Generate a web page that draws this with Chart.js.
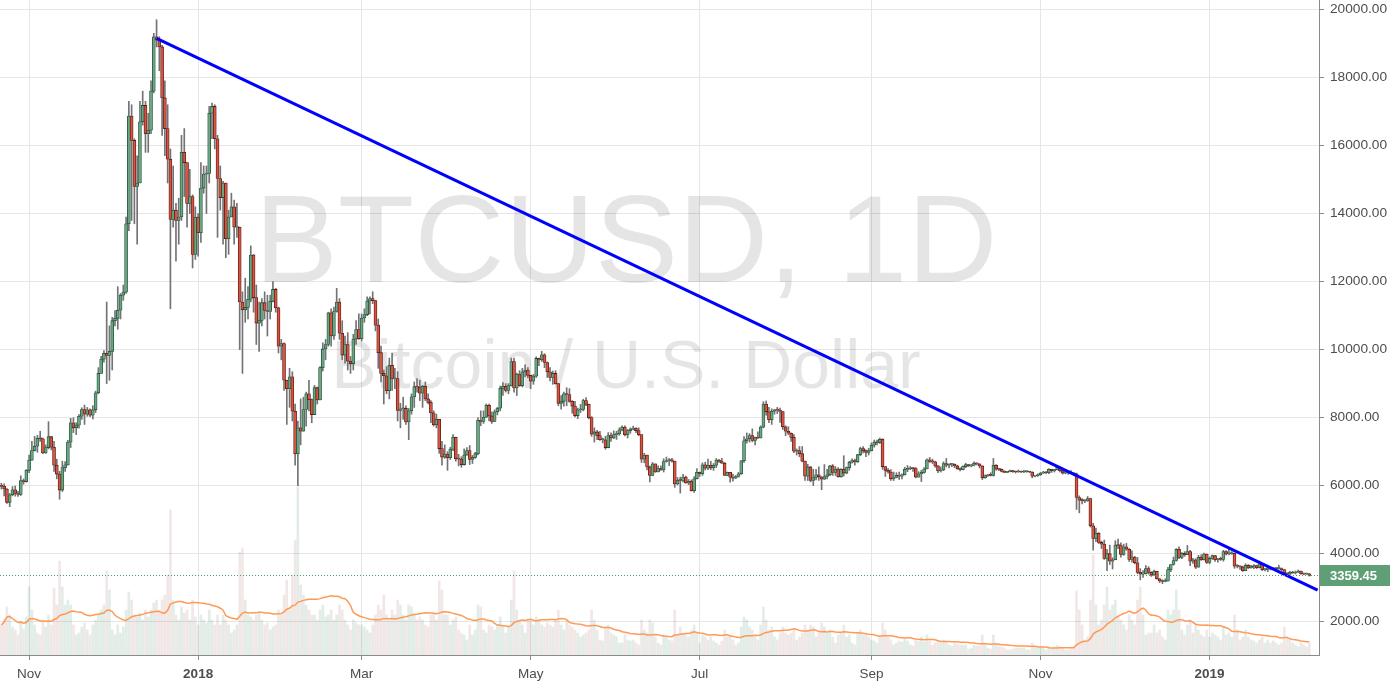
<!DOCTYPE html>
<html>
<head>
<meta charset="utf-8">
<title>BTCUSD, 1D</title>
<script src="https://cdn.jsdelivr.net/npm/chart.js@4.4.1/dist/chart.umd.min.js"></script>
<style>
  html, body { margin: 0; padding: 0; background: #ffffff; }
  #wrap { width: 1394px; height: 683px; position: relative; }
</style>
</head>
<body>
<div id="wrap"><canvas id="btcChart"></canvas></div>
<script>
// ========== DATA ==========

const symbolTitle = 'BTCUSD, 1D';
const symbolName = 'Bitcoin / U.S. Dollar';

const firstDay = '2017-10-22';
const lastDay = '2019-02-09';   // axis runs a few empty days past the last candle
const firstOpen = 6010;         // close of 2017-10-21; every later open is the previous close

// daily closes, one row per month
const closes = [
  5980, 5900, 5510, 5730, 5880, 5770, 5740, 6150, 6120, 6450,
  6750, 7030, 7160, 7390, 7380, 6960, 7120, 7440, 7130, 6600, 6340, 5870, 6530, 6610, 7280, 7850, 7700, 7780, 8040, 8240, 8100, 8230, 8070, 8230, 8730, 9300, 9720, 9890, 9830, 9950,
  10850, 10920, 11160, 11600, 11690, 13700, 16870, 16150, 14800, 14900, 16700, 17180, 16350, 16450, 17600, 19200, 19100, 18900, 17400, 16500, 15600, 13830, 14100, 13800, 13900, 15800, 15500, 14300, 14500, 12800, 13900,
  13440, 14750, 15160, 15180, 16950, 17150, 16200, 15030, 14470, 14900, 13260, 13900, 14200, 13600, 13600, 11400, 11170, 11240, 11480, 12780, 11530, 10780, 10860, 11380, 11150, 11120, 11420, 11770, 11230, 10100, 10180,
  9100, 8850, 9200, 8190, 6940, 7700, 7600, 8240, 8700, 8530, 8090, 8880, 8520, 9470, 10020, 10150, 11080, 10400, 11120, 11400, 10480, 9840, 10150, 9660, 9590, 10310, 10590, 10320,
  10930, 11030, 11430, 11500, 11440, 10720, 9910, 9300, 9230, 8790, 9540, 9140, 9150, 8210, 8260, 8270, 7870, 8200, 8610, 8910, 8900, 8720, 8920, 8550, 8450, 8140, 7790, 7950, 7090, 6840, 6930,
  6820, 7070, 7420, 6790, 6780, 6620, 6900, 7030, 6770, 6830, 6940, 7920, 7890, 8010, 8360, 8050, 7890, 8170, 8280, 8860, 8920, 8800, 8940, 9650, 8870, 9280, 8940, 9350, 9400, 9240,
  9070, 9220, 9740, 9700, 9850, 9620, 9350, 9180, 9300, 9000, 8420, 8480, 8700, 8680, 8480, 8340, 8060, 8230, 8240, 8500, 8390, 8000, 7510, 7580, 7470, 7350, 7350, 7120, 7470, 7400, 7500,
  7530, 7640, 7720, 7500, 7620, 7660, 7690, 7620, 7500, 6780, 6900, 6550, 6300, 6640, 6400, 6500, 6460, 6710, 6740, 6760, 6720, 6050, 6160, 6150, 6250, 6080, 6130, 5850, 6200, 6390,
  6350, 6610, 6510, 6600, 6530, 6600, 6750, 6710, 6660, 6300, 6390, 6250, 6220, 6270, 6350, 6730, 7320, 7380, 7470, 7330, 7410, 7400, 7720, 8400, 8170, 7940, 8190, 8230, 8220, 8180, 7730,
  7600, 7540, 7420, 7010, 7030, 6940, 6720, 6280, 6550, 6150, 6240, 6320, 6260, 6190, 6270, 6320, 6580, 6390, 6490, 6260, 6480, 6370, 6530, 6690, 6740, 6700, 6910, 7090, 7030, 6980, 7030,
  7190, 7280, 7260, 7360, 6560, 6450, 6400, 6200, 6240, 6300, 6280, 6320, 6480, 6490, 6520, 6500, 6250, 6350, 6390, 6490, 6760, 6710, 6700, 6580, 6430, 6460, 6650, 6600, 6630, 6630,
  6580, 6500, 6470, 6560, 6620, 6580, 6600, 6660, 6640, 6580, 6230, 6290, 6310, 6300, 6600, 6490, 6480, 6420, 6390, 6410, 6420, 6410, 6400, 6420, 6400, 6410, 6410, 6400, 6280, 6290, 6320,
  6370, 6400, 6380, 6480, 6440, 6470, 6540, 6440, 6370, 6400, 6400, 6370, 6350, 5650, 5570, 5560, 5550, 5620, 4820, 4450, 4600, 4330, 4280, 3860, 4000, 3780, 3820, 4250, 4240, 3980,
  4200, 4130, 3830, 3900, 3730, 3450, 3400, 3410, 3560, 3450, 3370, 3480, 3260, 3200, 3180, 3200, 3530, 3680, 3800, 4130, 3890, 4010, 3970, 4060, 3780, 3820, 3600, 3890, 3820, 3990, 3740,
  3860, 3940, 3820, 3850, 3830, 4060, 3990, 4000, 4010, 3630, 3630, 3610, 3500, 3660, 3580, 3620, 3650, 3590, 3700, 3530, 3540, 3580, 3550, 3570, 3560, 3560, 3530, 3430, 3400, 3460, 3430,
  3460, 3490, 3410, 3400, 3410, 3359.45
];

const highs = [
  6070, 6050, 5910, 5770, 5970, 5990, 5830, 6290, 6200, 6470,
  6900, 7300, 7450, 7480, 7600, 7400, 7200, 7880, 7450, 7300, 6780, 6420, 6720, 6710, 7330, 7980, 8000, 7850, 8090, 8290, 8370, 8300, 8260, 8350, 8780, 9470, 9800, 9970, 11400, 10700,
  10950, 11150, 11850, 11650, 11900, 13900, 17300, 17200, 16200, 15700, 17300, 17600, 17300, 16950, 17900, 19300, 19700, 19200, 18950, 17900, 17200, 15900, 15400, 14300, 14450, 16300, 16500, 15500, 15300, 14550, 14200,
  14000, 15500, 15400, 15400, 17150, 17250, 17200, 16300, 15400, 14950, 14900, 14100, 14600, 14400, 14300, 13600, 11700, 12100, 11850, 13050, 12800, 11900, 11400, 11500, 11700, 11600, 11600, 12000, 11800, 11250, 10300,
  10200, 9100, 9450, 9350, 8400, 7900, 8550, 8600, 8750, 9100, 8550, 8950, 8900, 9500, 10200, 10300, 11100, 11200, 11250, 11800, 11500, 10850, 10400, 10500, 9800, 10450, 10850, 11050,
  11050, 11200, 11550, 11550, 11700, 11450, 10900, 10100, 9400, 9500, 9750, 9900, 9450, 9350, 8420, 8600, 8350, 8270, 8700, 9050, 9150, 9100, 8950, 9050, 8700, 8500, 8200, 8100, 7950, 7300, 7200,
  7000, 7130, 7500, 7430, 6920, 6850, 7080, 7120, 7180, 6890, 6980, 8000, 8200, 8200, 8400, 8400, 8170, 8230, 8300, 8930, 9030, 9000, 9000, 9750, 9750, 9310, 9380, 9450, 9550, 9470,
  9250, 9270, 9790, 9750, 9950, 9880, 9640, 9470, 9370, 9380, 9000, 8650, 8750, 8880, 8850, 8500, 8480, 8280, 8390, 8540, 8590, 8400, 8030, 7700, 7630, 7600, 7400, 7450, 7560, 7550, 7610,
  7600, 7700, 7760, 7760, 7650, 7700, 7750, 7700, 7700, 7500, 6950, 6900, 6580, 6680, 6640, 6580, 6580, 6790, 6840, 6800, 6800, 6720, 6240, 6250, 6330, 6280, 6180, 6170, 6270, 6500,
  6400, 6670, 6690, 6780, 6720, 6650, 6800, 6770, 6800, 6680, 6400, 6390, 6340, 6300, 6390, 6740, 7440, 7550, 7530, 7670, 7430, 7580, 7760, 8470, 8490, 8300, 8260, 8240, 8300, 8280, 8180,
  7760, 7730, 7550, 7500, 7080, 7150, 7150, 6720, 6630, 6560, 6480, 6480, 6550, 6260, 6620, 6480, 6600, 6620, 6560, 6530, 6500, 6880, 6550, 6720, 6790, 6780, 6920, 7130, 7150, 7050, 7100,
  7260, 7340, 7340, 7400, 7380, 6560, 6500, 6470, 6400, 6380, 6400, 6350, 6540, 6590, 6560, 6530, 6530, 6410, 6450, 6530, 6790, 6830, 6780, 6720, 6590, 6550, 6700, 6800, 6640, 6650,
  6640, 6600, 6520, 6580, 6660, 6620, 6620, 6700, 6670, 6640, 6580, 6320, 6330, 6380, 6800, 6620, 6510, 6490, 6440, 6420, 6460, 6450, 6430, 6460, 6430, 6450, 6430, 6420, 6410, 6300, 6350,
  6390, 6420, 6410, 6500, 6480, 6480, 6590, 6550, 6460, 6420, 6420, 6440, 6380, 6370, 5700, 5620, 5580, 5680, 5630, 4890, 4750, 4620, 4370, 4400, 4130, 4250, 3880, 4380, 4430, 4320,
  4280, 4300, 4150, 4080, 3920, 3890, 3560, 3500, 3650, 3620, 3470, 3520, 3480, 3270, 3230, 3260, 3600, 3680, 3900, 4150, 4200, 4030, 4060, 4240, 4100, 3860, 3850, 3950, 3970, 4020, 3990,
  3900, 3960, 3950, 3860, 3900, 4100, 4090, 4140, 4060, 4020, 3680, 3640, 3630, 3700, 3680, 3660, 3680, 3660, 3780, 3710, 3560, 3620, 3600, 3590, 3580, 3660, 3580, 3530, 3440, 3480, 3480,
  3490, 3520, 3490, 3430, 3430, 3420
];

const lows = [
  5900, 5700, 5480, 5380, 5700, 5690, 5680, 5710, 6040, 6100,
  6380, 6740, 7020, 6980, 7300, 6940, 6950, 7080, 7050, 6420, 6200, 5600, 5830, 6420, 6600, 7120, 7560, 7500, 7690, 7950, 7800, 8040, 8030, 7960, 8150, 8700, 9300, 9630, 9000, 9100,
  9400, 10700, 10600, 10900, 11450, 11650, 13500, 13800, 13700, 13100, 14900, 16600, 15800, 15800, 16350, 17550, 18900, 18200, 16300, 15700, 14900, 11200, 13600, 12600, 13100, 13800, 14500, 13600, 14000, 12400, 12650,
  12750, 13150, 14600, 14000, 14900, 16200, 15900, 13300, 14100, 13100, 12700, 12800, 13900, 13100, 13300, 10000, 9300, 10800, 10900, 11400, 11100, 10150, 9950, 10700, 10900, 10400, 10900, 11400, 11100, 9900, 9700,
  8800, 7800, 8300, 7900, 6600, 6000, 7200, 7600, 7750, 8200, 7850, 8100, 8400, 8520, 9370, 9700, 10100, 10100, 10300, 11100, 10300, 9700, 9600, 9400, 9300, 9400, 10150, 10300,
  10250, 10800, 11000, 11050, 11350, 10550, 9450, 9050, 8400, 8700, 8550, 8800, 8850, 7900, 7700, 7950, 7800, 7350, 8100, 8300, 8750, 8500, 8300, 8500, 8400, 7850, 7750, 7700, 6950, 6600, 6800,
  6450, 6770, 7030, 6720, 6580, 6540, 6600, 6890, 6620, 6650, 6800, 6900, 7760, 7830, 8000, 7900, 7830, 7880, 8080, 8200, 8650, 8750, 8700, 8930, 8750, 8650, 8920, 8900, 9200, 9170,
  8850, 8980, 9180, 9530, 9650, 9470, 9180, 9080, 8980, 8980, 8350, 8250, 8340, 8350, 8450, 8130, 8020, 7970, 8150, 8200, 8350, 7960, 7450, 7280, 7350, 7330, 7260, 7070, 7110, 7300, 7380,
  7360, 7480, 7610, 7460, 7400, 7540, 7640, 7560, 7470, 6680, 6670, 6460, 6110, 6290, 6390, 6400, 6450, 6400, 6690, 6590, 6690, 5950, 6020, 5780, 6110, 6070, 6030, 5840, 5800, 6200,
  6270, 6300, 6460, 6470, 6470, 6450, 6530, 6680, 6650, 6300, 6290, 6100, 6130, 6210, 6250, 6330, 6680, 7250, 7280, 7290, 7200, 7380, 7400, 7700, 8070, 7850, 7800, 8100, 8120, 7860, 7650,
  7470, 7500, 7300, 6970, 6900, 6850, 6700, 6150, 6150, 6110, 6000, 6170, 6150, 5880, 6180, 6200, 6290, 6300, 6300, 6250, 6250, 6280, 6350, 6450, 6660, 6600, 6680, 6880, 6960, 6850, 6900,
  7020, 7130, 7200, 7240, 6480, 6270, 6370, 6150, 6150, 6230, 6180, 6200, 6310, 6410, 6470, 6420, 6230, 6250, 6120, 6370, 6490, 6680, 6650, 6540, 6380, 6400, 6440, 6550, 6520, 6560,
  6530, 6480, 6430, 6460, 6530, 6560, 6550, 6580, 6610, 6520, 6180, 6220, 6270, 6280, 6280, 6450, 6440, 6400, 6380, 6380, 6400, 6390, 6370, 6390, 6380, 6380, 6390, 6380, 6230, 6260, 6270,
  6300, 6360, 6350, 6350, 6390, 6400, 6460, 6400, 6340, 6350, 6330, 6350, 6300, 5300, 5200, 5460, 5500, 5540, 4780, 4100, 4350, 4300, 4150, 3830, 3500, 3680, 3550, 3820, 4150, 3900,
  3950, 4100, 3770, 3750, 3700, 3410, 3230, 3300, 3400, 3400, 3330, 3360, 3250, 3150, 3120, 3170, 3190, 3470, 3660, 3780, 3850, 3850, 3920, 3970, 3650, 3710, 3560, 3600, 3800, 3810, 3710,
  3700, 3830, 3770, 3750, 3800, 3780, 3960, 3960, 3980, 3570, 3580, 3540, 3480, 3500, 3560, 3570, 3560, 3560, 3580, 3500, 3490, 3470, 3520, 3530, 3520, 3540, 3480, 3380, 3360, 3390, 3420,
  3400, 3440, 3400, 3380, 3390, 3340
];

// volume, in the units of the hidden volume axis
const volumes = [
  30, 36, 48, 40, 28, 25, 20, 34, 26, 38,
  68, 45, 30, 22, 20, 35, 28, 40, 30, 67, 50, 94, 68, 50, 55, 50, 30, 20, 22, 28, 32, 25, 20, 30, 35, 40, 45, 50, 84, 65,
  25, 20, 30, 22, 28, 45, 63, 55, 40, 38, 42, 35, 45, 38, 45, 52, 55, 45, 55, 60, 80, 145, 55, 40, 35, 48, 42, 45, 35, 55, 38,
  30, 40, 35, 32, 45, 35, 30, 40, 30, 40, 35, 30, 22, 25, 30, 103, 107, 55, 40, 38, 35, 40, 42, 35, 30, 32, 25, 28, 30, 45, 40,
  60, 75, 45, 80, 115, 168, 70, 60, 50, 45, 40, 40, 35, 45, 50, 38, 40, 45, 35, 40, 50, 45, 35, 30, 25, 35, 32, 30,
  30, 28, 25, 22, 30, 40, 50, 45, 60, 40, 35, 45, 40, 55, 50, 40, 35, 50, 48, 42, 35, 38, 35, 30, 28, 40, 42, 35, 74, 65, 40,
  40, 30, 35, 38, 25, 22, 20, 15, 30, 20, 25, 50, 48, 25, 22, 30, 28, 25, 30, 38, 30, 22, 28, 55, 84, 45, 35, 30, 22, 35,
  35, 30, 38, 35, 30, 28, 32, 30, 28, 35, 45, 30, 25, 35, 30, 28, 25, 22, 18, 20, 22, 25, 45, 35, 25, 15, 14, 28, 30, 22, 20,
  18, 12, 12, 20, 15, 14, 15, 12, 10, 35, 25, 22, 35, 32, 18, 12, 10, 20, 18, 15, 14, 45, 20, 28, 22, 20, 18, 25, 30, 22,
  12, 20, 18, 15, 18, 14, 12, 10, 14, 25, 18, 20, 15, 10, 12, 28, 38, 35, 28, 25, 18, 15, 30, 48, 35, 25, 28, 18, 15, 22, 28,
  22, 20, 22, 25, 15, 18, 22, 30, 25, 30, 28, 18, 22, 32, 28, 22, 25, 18, 12, 20, 22, 30, 18, 20, 12, 10, 22, 25, 20, 20, 18,
  15, 14, 12, 18, 32, 25, 18, 15, 10, 12, 14, 13, 16, 14, 10, 9, 15, 14, 18, 13, 20, 14, 10, 12, 14, 13, 15, 14, 10, 9,
  12, 11, 10, 10, 10, 6, 7, 10, 9, 9, 20, 12, 7, 6, 20, 12, 9, 8, 7, 5, 5, 6, 7, 7, 7, 7, 5, 5, 12, 8, 8,
  8, 7, 5, 8, 7, 8, 10, 8, 7, 5, 5, 6, 8, 64, 45, 30, 15, 18, 55, 100, 50, 30, 35, 50, 68, 45, 50, 55, 40, 35,
  30, 25, 40, 35, 30, 55, 68, 40, 20, 22, 22, 30, 22, 25, 18, 15, 45, 40, 45, 65, 45, 25, 20, 30, 35, 22, 30, 25, 20, 18, 25,
  18, 22, 20, 18, 15, 28, 20, 22, 18, 40, 25, 15, 18, 25, 18, 15, 14, 12, 15, 18, 12, 15, 12, 14, 12, 10, 12, 28, 18, 15, 12,
  10, 8, 12, 10, 8, 12
];
const volumeMaPeriod = 20;
const volumeMax = 655;

const tickDates = ['2017-11-01', '2018-01-01', '2018-03-01', '2018-05-01', '2018-07-01', '2018-09-01', '2018-11-01', '2019-01-01'];
const tickLabels = ['Nov', '2018', 'Mar', 'May', 'Jul', 'Sep', 'Nov', '2019'];
const priceTicks = [2000, 4000, 6000, 8000, 10000, 12000, 14000, 16000, 18000, 20000];
const priceMin = 1020;
const priceMax = 20280;

// hand drawn trend line
const trendDates = ['2017-12-17', '2019-02-09'];
const trendValues = [19150, 2930];

const lastPrice = 3359.45;


// ========== BUILD SERIES ==========

function buildDays(from, to) {
    const out = [];
    const d = new Date(from + 'T00:00:00Z');
    const end = new Date(to + 'T00:00:00Z');
    while (d <= end) {
        out.push(d.toISOString().slice(0, 10));
        d.setUTCDate(d.getUTCDate() + 1);
    }
    return out;
}

const days = buildDays(firstDay, lastDay);
const opens = closes.map((c, i) => i === 0 ? firstOpen : closes[i - 1]);
const isUp = closes.map((c, i) => c >= opens[i]);

const bodyData = days.map((d, i) => i < closes.length ? [opens[i], closes[i]] : null);
const wickData = days.map((d, i) => i < closes.length
    ? [Math.min(lows[i], opens[i], closes[i]), Math.max(highs[i], opens[i], closes[i])]
    : null);

const volumeMa = volumes.map((v, i) => {
    const win = volumes.slice(Math.max(0, i - volumeMaPeriod + 1), i + 1);
    return win.reduce((a, b) => a + b, 0) / win.length;
});

const trendData = days.map(d => {
    const k = trendDates.indexOf(d);
    return k >= 0 ? trendValues[k] : null;
});

const tickIndexes = tickDates.map(d => days.indexOf(d));

const UP_FILL = '#6ba583', UP_EDGE = '#225437';
const DOWN_FILL = '#d75442', DOWN_EDGE = '#5b1a13';


// ========== PLUGINS ==========

const FONT = '"Liberation Sans", Arial, sans-serif';

const watermark = {
    id: 'watermark',
    beforeDatasetsDraw(chart) {
        const ctx = chart.ctx;
        ctx.save();
        ctx.fillStyle = 'rgba(0,0,0,0.1)';
        ctx.textAlign = 'center';
        ctx.textBaseline = 'alphabetic';
        ctx.font = '125px ' + FONT;
        ctx.fillText(symbolTitle, 626, 282);
        ctx.font = '68px ' + FONT;
        ctx.fillText(symbolName, 626, 388);
        ctx.restore();
    }
};

const lastPriceLine = {
    id: 'lastPriceLine',
    afterDraw(chart) {
        const { ctx, chartArea, scales } = chart;
        const y = Math.round(scales.y.getPixelForValue(lastPrice)) + 0.5;
        ctx.save();
        ctx.strokeStyle = '#4a9a6a';
        ctx.lineWidth = 1;
        ctx.setLineDash([1, 2]);
        ctx.beginPath();
        ctx.moveTo(chartArea.left, y);
        ctx.lineTo(chartArea.right, y);
        ctx.stroke();
        ctx.setLineDash([]);
        ctx.fillStyle = '#5f9f76';
        ctx.fillRect(chartArea.right + 1, y - 10.5, 70, 21);
        ctx.fillStyle = '#ffffff';
        ctx.font = 'bold 13px ' + FONT;
        ctx.textAlign = 'left';
        ctx.textBaseline = 'middle';
        ctx.fillText(lastPrice.toFixed(2), chartArea.right + 11, y + 0.5);
        ctx.restore();
    }
};


// ========== CHART ==========

Chart.defaults.font.family = FONT;

const chart = new Chart(document.getElementById('btcChart'), {
    type: 'bar',
    data: {
        labels: days,
        datasets: [
            {
                type: 'line',
                label: 'Trend',
                data: trendData,
                yAxisID: 'y',
                borderColor: '#0000ff',
                borderWidth: 3,
                pointRadius: 0,
                spanGaps: true,
                order: 0
            },
            {
                label: 'Body',
                data: bodyData,
                yAxisID: 'y',
                backgroundColor: isUp.map(u => u ? UP_FILL : DOWN_FILL),
                borderColor: isUp.map(u => u ? UP_EDGE : DOWN_EDGE),
                borderWidth: 0.8,
                borderSkipped: false,
                barThickness: 3,
                minBarLength: 1,
                grouped: false,
                order: 1
            },
            {
                label: 'Wick',
                data: wickData,
                yAxisID: 'y',
                backgroundColor: '#737375',
                barThickness: 1,
                grouped: false,
                order: 2
            },
            {
                type: 'line',
                label: 'Volume MA',
                data: volumeMa,
                yAxisID: 'yVol',
                borderColor: '#ff9a55',
                borderWidth: 1.5,
                pointRadius: 0,
                order: 3
            },
            {
                label: 'Volume',
                data: volumes,
                yAxisID: 'yVol',
                backgroundColor: isUp.map(u => u ? 'rgba(107,165,131,0.2)' : 'rgba(185,120,120,0.18)'),
                barThickness: 2,
                grouped: false,
                order: 4
            }
        ]
    },
    options: {
        responsive: true,
        maintainAspectRatio: false,
        animation: false,
        events: [],
        layout: { padding: 0 },
        plugins: {
            legend: { display: false },
            tooltip: { enabled: false }
        },
        scales: {
            x: {
                offset: true,
                grid: { offset: false, color: '#e6e6e6', tickLength: 5, tickColor: '#8a8a8a' },
                border: { color: '#8a8a8a' },
                ticks: {
                    autoSkip: false,
                    maxRotation: 0,
                    padding: 6,
                    color: '#4d4d4d',
                    font: ctx => ({ size: 13.5, weight: /^\d{4}$/.test(tickLabels[ctx.index]) ? 'bold' : 'normal' }),
                    callback: (value, index) => tickLabels[index]
                },
                afterBuildTicks: scale => { scale.ticks = tickIndexes.map(i => ({ value: i })); },
                afterFit: scale => {
                    scale.height = 28;
                    scale.paddingLeft = 0;
                    scale.paddingRight = 0;
                }
            },
            y: {
                position: 'right',
                min: priceMin,
                max: priceMax,
                grid: { color: '#e6e6e6', tickLength: 5, tickColor: '#8a8a8a' },
                border: { color: '#8a8a8a' },
                ticks: {
                    padding: 6,
                    color: '#4d4d4d',
                    font: { size: 13.7 },
                    callback: v => Number(v).toFixed(2)
                },
                afterBuildTicks: scale => { scale.ticks = priceTicks.map(v => ({ value: v })); },
                afterFit: scale => {
                    scale.width = 75;
                    scale.paddingTop = 0;
                    scale.paddingBottom = 0;
                }
            },
            yVol: {
                axis: 'y',
                display: false,
                min: 0,
                max: volumeMax
            }
        }
    },
    plugins: [watermark, lastPriceLine]
});
</script>
</body>
</html>
